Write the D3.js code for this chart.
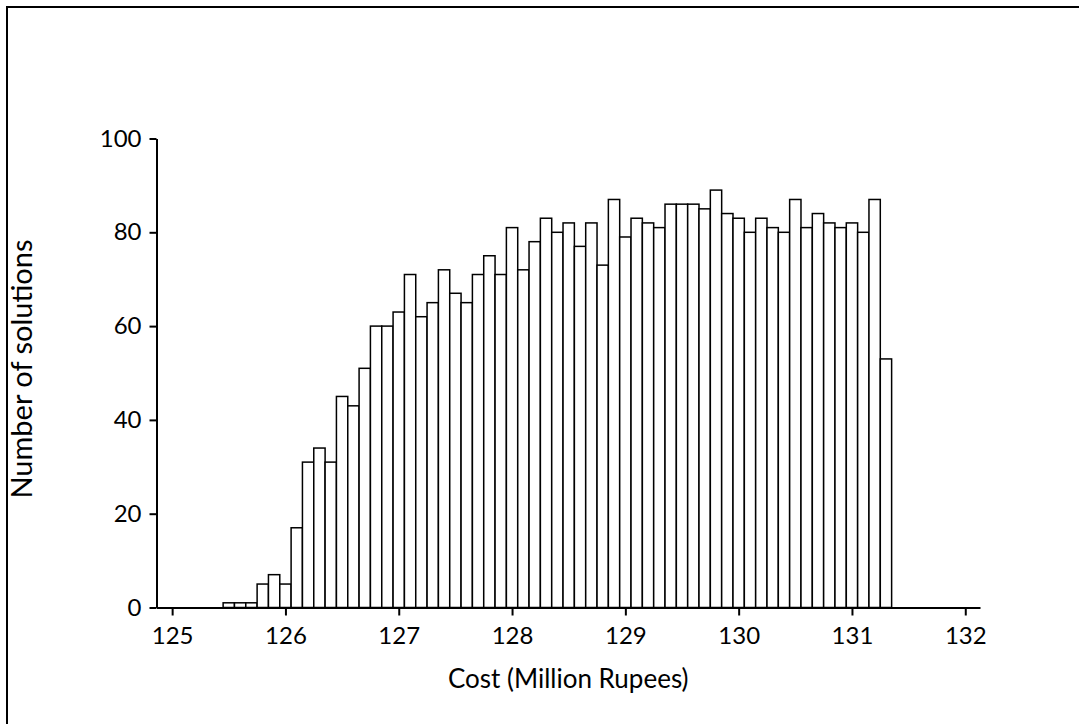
<!DOCTYPE html>
<html>
<head>
<meta charset="utf-8">
<script src="https://cdn.jsdelivr.net/npm/d3@7"></script>
<style>
  html, body { margin: 0; padding: 0; background: #fff; }
  svg { display: block; }
  .tick text { font-family: Lato, "Open Sans", sans-serif; fill: #000; }
</style>
</head>
<body>
<svg id="chart" width="1079" height="724"></svg>
<script>
// Bin centres (Million Rupees), bin width 0.1
const binCenters = [
  125.5, 125.6, 125.7, 125.8, 125.9, 126.0, 126.1, 126.2, 126.3, 126.4,
  126.5, 126.6, 126.7, 126.8, 126.9, 127.0, 127.1, 127.2, 127.3, 127.4,
  127.5, 127.6, 127.7, 127.8, 127.9, 128.0, 128.1, 128.2, 128.3, 128.4,
  128.5, 128.6, 128.7, 128.8, 128.9, 129.0, 129.1, 129.2, 129.3, 129.4,
  129.5, 129.6, 129.7, 129.8, 129.9, 130.0, 130.1, 130.2, 130.3, 130.4,
  130.5, 130.6, 130.7, 130.8, 130.9, 131.0, 131.1, 131.2, 131.3
];
const binWidth = 0.1;
// Number of solutions per bin
const counts = [
  1, 1, 1, 5, 7, 5, 17, 31, 34, 31,
  45, 43, 51, 60, 60, 63, 71, 62, 65, 72,
  67, 65, 71, 75, 71, 81, 72, 78, 83, 80,
  82, 77, 82, 73, 87, 79, 83, 82, 81, 86,
  86, 86, 85, 89, 84, 83, 80, 83, 81, 80,
  87, 81, 84, 82, 81, 82, 80, 87, 53
];
const xTicks = [125, 126, 127, 128, 129, 130, 131, 132];
const yTicks = [0, 20, 40, 60, 80, 100];
const xTitle = "Cost (Million Rupees)";
const yTitle = "Number of solutions";

const svg = d3.select("#chart");

// outer frame (right/bottom edges lie outside the picture)
svg.append("rect")
  .attr("x", 7).attr("y", 7)
  .attr("width", 1100).attr("height", 740)
  .attr("fill", "none").attr("stroke", "#000").attr("stroke-width", 2);

const x = d3.scaleLinear().domain([124.862, 132.13]).range([156.5, 980]);
const y = d3.scaleLinear().domain([0, 100]).range([607.5, 138.5]);

const data = binCenters.map((c, i) => ({ c, n: counts[i] }));

svg.append("g")
  .selectAll("rect")
  .data(data)
  .join("rect")
  .attr("x", d => x(d.c - binWidth / 2))
  .attr("width", d => x(d.c + binWidth / 2) - x(d.c - binWidth / 2))
  .attr("y", d => y(d.n))
  .attr("height", d => y(0) - y(d.n))
  .attr("fill", "#fff")
  .attr("stroke", "#000")
  .attr("stroke-width", 1.5);

const xAxis = svg.append("g")
  .attr("transform", `translate(0,${y(0)})`)
  .call(d3.axisBottom(x).tickValues(xTicks).tickFormat(d3.format("d"))
        .tickSize(8).tickSizeOuter(0).tickPadding(11));
xAxis.select(".domain").attr("stroke-width", 2);
xAxis.selectAll(".tick line").attr("stroke-width", 2);
xAxis.selectAll(".tick text").attr("font-size", 24);

const yAxis = svg.append("g")
  .attr("transform", `translate(${x.range()[0]},0)`)
  .call(d3.axisLeft(y).tickValues(yTicks).tickSize(7).tickSizeOuter(0).tickPadding(8));
yAxis.select(".domain").attr("stroke-width", 2);
yAxis.selectAll(".tick line").attr("stroke-width", 2);
yAxis.selectAll(".tick text").attr("font-size", 24);

svg.append("text")
  .attr("x", (x.range()[0] + x.range()[1]) / 2)
  .attr("y", 688)
  .attr("text-anchor", "middle")
  .attr("font-family", "Lato, 'Open Sans', sans-serif")
  .attr("font-size", 26)
  .text(xTitle);

svg.append("text")
  .attr("transform", `translate(32,369) rotate(-90)`)
  .attr("text-anchor", "middle")
  .attr("font-family", "Lato, 'Open Sans', sans-serif")
  .attr("font-size", 29)
  .text(yTitle);
</script>
</body>
</html>
